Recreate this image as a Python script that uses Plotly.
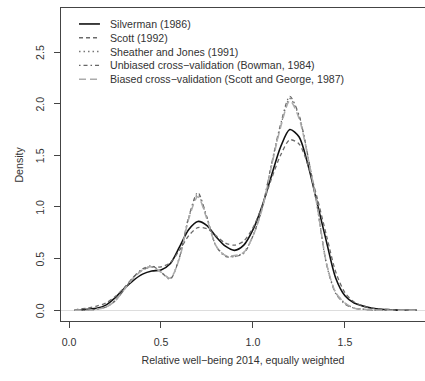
import plotly.graph_objects as go

# Evaluation grid shared by all density estimates
x_grid = [0.03, 0.05, 0.10, 0.15, 0.20, 0.25, 0.30, 0.35, 0.40, 0.45, 0.50,
          0.55, 0.60, 0.65, 0.70, 0.75, 0.80, 0.85, 0.90, 0.95, 1.00,
          1.05, 1.10, 1.15, 1.20, 1.25, 1.30, 1.35, 1.40, 1.45, 1.50,
          1.55, 1.60, 1.65, 1.70, 1.75, 1.80, 1.85, 1.89]

silverman = [0.00, 0.00, 0.01, 0.02, 0.05, 0.12, 0.21, 0.29, 0.35, 0.38, 0.39,
             0.45, 0.61, 0.78, 0.86, 0.82, 0.71, 0.62, 0.58, 0.63, 0.78,
             1.01, 1.30, 1.58, 1.75, 1.68, 1.40, 1.03, 0.66, 0.31, 0.14,
             0.07, 0.04, 0.02, 0.01, 0.005, 0.00, 0.00, 0.00]

scott = [0.00, 0.01, 0.02, 0.04, 0.07, 0.13, 0.22, 0.32, 0.39, 0.42, 0.42,
         0.46, 0.58, 0.72, 0.80, 0.79, 0.72, 0.65, 0.63, 0.67, 0.80,
         1.01, 1.27, 1.50, 1.65, 1.61, 1.40, 1.08, 0.72, 0.37, 0.17,
         0.08, 0.04, 0.02, 0.01, 0.005, 0.00, 0.00, 0.00]

sheather_jones = [0.00, 0.00, 0.00, 0.01, 0.03, 0.09, 0.20, 0.32, 0.40, 0.42, 0.37,
                  0.31, 0.51, 0.89, 1.12, 0.89, 0.62, 0.53, 0.52, 0.56, 0.72,
                  0.99, 1.40, 1.78, 2.05, 1.88, 1.48, 1.00, 0.45, 0.17, 0.07,
                  0.02, 0.01, 0.00, 0.00, 0.00, 0.00, 0.00, 0.00]

ucv = [0.00, 0.00, 0.00, 0.01, 0.03, 0.09, 0.20, 0.32, 0.40, 0.43, 0.37,
       0.30, 0.51, 0.90, 1.14, 0.90, 0.62, 0.52, 0.52, 0.55, 0.72,
       0.99, 1.41, 1.80, 2.07, 1.89, 1.48, 0.99, 0.44, 0.16, 0.06,
       0.02, 0.01, 0.00, 0.00, 0.00, 0.00, 0.00, 0.00]

bcv = [0.00, 0.00, 0.00, 0.01, 0.03, 0.09, 0.20, 0.31, 0.39, 0.42, 0.37,
       0.31, 0.50, 0.88, 1.10, 0.88, 0.62, 0.53, 0.53, 0.56, 0.72,
       0.98, 1.39, 1.77, 2.03, 1.86, 1.47, 1.00, 0.45, 0.17, 0.07,
       0.02, 0.01, 0.00, 0.00, 0.00, 0.00, 0.00, 0.00]

series_names = ["Silverman (1986)",
                "Scott (1992)",
                "Sheather and Jones (1991)",
                "Unbiased cross\u2212validation (Bowman, 1984)",
                "Biased cross\u2212validation (Scott and George, 1987)"]

x_ticks = [0.0, 0.5, 1.0, 1.5]
y_ticks = [0.0, 0.5, 1.0, 1.5, 2.0, 2.5]

styles = [
    dict(color="#111111", width=1.6, dash="solid"),
    dict(color="#6a6a6a", width=1.3, dash="4px,3px"),
    dict(color="#777777", width=1.3, dash="1.5px,3px"),
    dict(color="#666666", width=1.2, dash="1.5px,3px,4px,3px"),
    dict(color="#ababab", width=1.5, dash="7px,4px"),
]

font_family = "Liberation Sans, Arial, Helvetica, sans-serif"
text_color = "#333333"
font_size = 10.6

fig = go.Figure()
for name, ys, st in zip(series_names,
                        [silverman, scott, sheather_jones, ucv, bcv],
                        styles):
    fig.add_trace(go.Scatter(
        x=x_grid, y=ys, name=name, mode="lines", showlegend=False,
        line=dict(color=st["color"], width=st["width"], dash=st["dash"],
                  shape="spline", smoothing=0.8),
    ))

# Key in the upper-left corner: short line samples followed by labels
key_x0, key_x1, key_text_x = 0.0495, 0.107, 0.129
key_rows = [0.949, 0.905, 0.861, 0.817, 0.772]
shapes = []
annotations = []
for name, st, ky in zip(series_names, styles, key_rows):
    shapes.append(dict(
        type="line", xref="x domain", yref="y domain",
        x0=key_x0, x1=key_x1, y0=ky, y1=ky,
        line=dict(color=st["color"], width=st["width"], dash=st["dash"]),
    ))
    annotations.append(dict(
        text=name, xref="x domain", yref="y domain",
        x=key_text_x, y=ky, xanchor="left", yanchor="middle",
        showarrow=False, font=dict(size=font_size, color=text_color),
    ))

# Vertical y tick labels, placed at their data values
for v in y_ticks:
    annotations.append(dict(
        text=f"{v:.1f}", xref="paper", yref="y",
        x=-0.058, y=v, xanchor="center", yanchor="middle",
        textangle=-90, showarrow=False,
        font=dict(size=font_size, color=text_color),
    ))
annotations.append(dict(
    text="Density", xref="paper", yref="y domain",
    x=-0.118, y=0.5, xanchor="center", yanchor="middle",
    textangle=-90, showarrow=False,
    font=dict(size=font_size, color=text_color),
))

fig.update_layout(
    width=425, height=381,
    margin=dict(l=61, r=0, t=8, b=60),
    paper_bgcolor="white", plot_bgcolor="white",
    font=dict(family=font_family, size=font_size, color=text_color),
    showlegend=False,
    shapes=shapes,
    annotations=annotations,
)

fig.update_xaxes(
    range=[-0.0435, 1.935], tickvals=x_ticks,
    ticktext=[f"{v:.1f}" for v in x_ticks],
    showgrid=False, zeroline=False,
    showline=True, linecolor="#444444", linewidth=1, mirror=True,
    ticks="outside", ticklen=6, tickcolor="#444444",
    ticklabelstandoff=5,
    title=dict(text="Relative well\u2212being 2014, equally weighted",
               standoff=9, font=dict(size=font_size)),
)

fig.update_yaxes(
    range=[-0.104, 2.926], tickvals=y_ticks,
    showticklabels=False,
    showgrid=False,
    zeroline=True, zerolinecolor="#dddddd", zerolinewidth=1,
    showline=True, linecolor="#444444", linewidth=1, mirror=False,
    ticks="outside", ticklen=6, tickcolor="#444444",
)

fig.write_html("out.html")
